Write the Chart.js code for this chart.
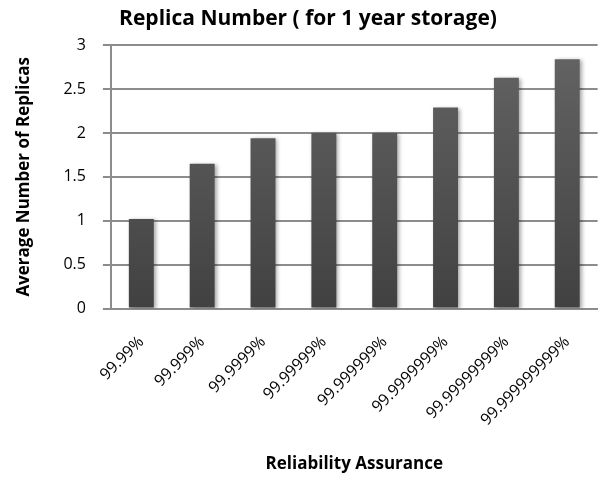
<!DOCTYPE html>
<html>
<head>
<meta charset="utf-8">
<script src="https://cdn.jsdelivr.net/npm/chart.js@4"></script>
<style>
  html, body { margin: 0; padding: 0; background: #fff; }
  #wrap { width: 605px; height: 478px; }
</style>
</head>
<body>
<div id="wrap"><canvas id="grafica" width="605" height="478"></canvas></div>
<script>
// datos
const etiquetas = ['99.99%', '99.999%', '99.9999%', '99.99999%', '99.999999%',
  '99.9999999%', '99.99999999%', '99.999999999%'];
const replicas = [1.02, 1.65, 1.94, 2.0, 2.0, 2.29, 2.63, 2.84];
const yTicks = [0, 0.5, 1, 1.5, 2, 2.5, 3];

const fuente = "'Open Sans', 'Liberation Sans', sans-serif";

// degradado gris de las barras
function degradado(context) {
  const chart = context.chart;
  const area = chart.chartArea;
  if (!area) return '#555';
  const g = chart.ctx.createLinearGradient(0, area.top, 0, area.bottom);
  g.addColorStop(0, '#646464');
  g.addColorStop(1, '#414141');
  return g;
}

const sombra = {
  id: 'sombra',
  beforeDatasetsDraw(chart) {
    const ctx = chart.ctx;
    ctx.save();
    ctx.shadowColor = 'rgba(0,0,0,0.35)';
    ctx.shadowBlur = 4;
    ctx.shadowOffsetX = 2;
    ctx.shadowOffsetY = 1;
  },
  afterDatasetsDraw(chart) {
    chart.ctx.restore();
  }
};

new Chart(document.getElementById('grafica'), {
  type: 'bar',
  data: {
    labels: etiquetas,
    datasets: [{
      data: replicas,
      backgroundColor: degradado,
      borderWidth: 0,
      barPercentage: 0.41,
      categoryPercentage: 1
    }]
  },
  options: {
    responsive: false,
    animation: false,
    layout: { padding: { left: 14, right: 3, top: 6, bottom: 4 } },
    plugins: {
      legend: { display: false },
      tooltip: { enabled: false },
      title: {
        display: true,
        text: 'Replica Number ( for 1 year storage)',
        color: '#000',
        font: { family: fuente, size: 21, weight: 'bold' },
        padding: { top: 0, bottom: 14 }
      }
    },
    scales: {
      x: {
        grid: { display: false, drawTicks: false },
        border: { color: '#8c8c8c', width: 2 },
        ticks: {
          color: '#000',
          font: { family: fuente, size: 16 },
          minRotation: 45,
          maxRotation: 45,
          padding: 24
        },
        title: {
          display: true,
          text: 'Reliability Assurance',
          color: '#000',
          font: { family: fuente, size: 17, weight: 'bold' },
          padding: { top: 0, bottom: 0 }
        }
      },
      y: {
        min: 0,
        max: 3,
        afterBuildTicks(axis) {
          axis.ticks = yTicks.map(v => ({ value: v }));
        },
        grid: { color: '#8c8c8c', lineWidth: 2, tickLength: 8 },
        border: { color: '#8c8c8c', width: 2 },
        ticks: {
          color: '#000',
          font: { family: fuente, size: 16 },
          padding: 17,
          callback: v => String(v)
        },
        title: {
          display: true,
          text: 'Average Number of Replicas',
          color: '#000',
          font: { family: fuente, size: 17, weight: 'bold' },
          padding: { top: 0, bottom: 12 }
        }
      }
    }
  },
  plugins: [sombra]
});
</script>
</body>
</html>
